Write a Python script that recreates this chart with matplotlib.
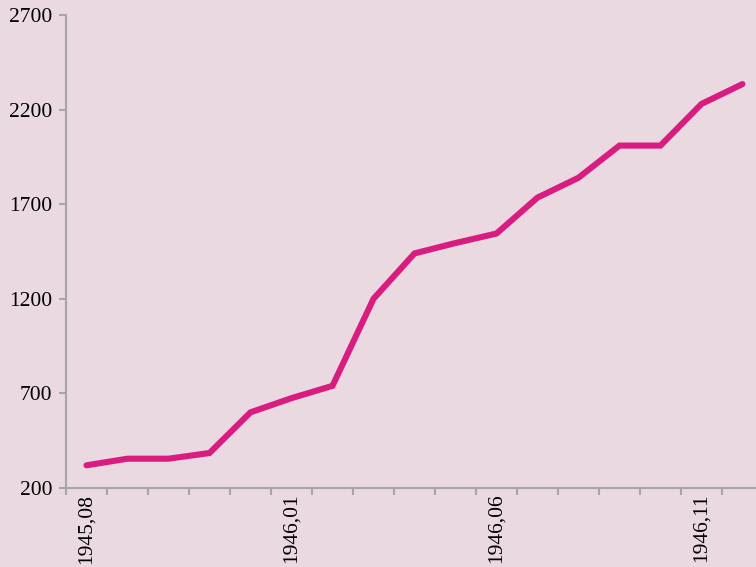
import matplotlib.pyplot as plt

months = ['1945,08', '1945,09', '1945,10', '1945,11', '1945,12',
          '1946,01', '1946,02', '1946,03', '1946,04', '1946,05',
          '1946,06', '1946,07', '1946,08', '1946,09', '1946,10',
          '1946,11', '1946,12']
values = [320, 355, 355, 385, 600, 675, 740, 1200, 1440, 1495,
          1545, 1735, 1840, 2010, 2010, 2230, 2335]
yticks = [200, 700, 1200, 1700, 2200, 2700]

bg = '#ebd9e1'
lineColor = '#d91c80'
axisColor = '#a3a6ab'

plt.rcParams['font.family'] = ['Liberation Serif', 'DejaVu Serif']

fig = plt.figure(figsize=(7.56, 5.67), dpi=100, facecolor=bg)
ax = fig.add_axes([0.0873, 0.1393, 0.9127, 0.8342], facecolor=bg)

x = list(range(len(months)))
ax.plot(x, values, color=lineColor, linewidth=4.4, solid_capstyle='round',
        solid_joinstyle='miter', clip_on=False)

ax.set_ylim(200, 2700)
ax.set_yticks(yticks)
ax.set_yticklabels([str(v) for v in yticks], fontsize=15.5, color='#000000')

ax.set_xlim(-0.5, 16.33)
ax.set_xticks([i - 0.5 for i in range(len(months))])
ax.set_xticklabels([])
ax.set_xticks([0, 5, 10, 15], minor=True)
ax.set_xticklabels([months[i] for i in [0, 5, 10, 15]], minor=True,
                   rotation=90, fontsize=15.5, color='#000000')
ax.tick_params(axis='x', which='minor', length=0, pad=4)
ax.tick_params(axis='x', which='major', length=5, width=1.5, color=axisColor)
ax.tick_params(axis='y', length=5, width=1.5, color=axisColor, pad=5)

for s in ['top', 'right']:
    ax.spines[s].set_visible(False)
for s in ['left', 'bottom']:
    ax.spines[s].set_color(axisColor)
    ax.spines[s].set_linewidth(1.5)

fig.savefig('out.png', dpi=100, facecolor=bg)
